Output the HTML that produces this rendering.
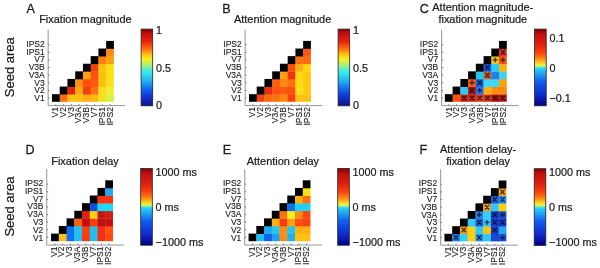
<!DOCTYPE html>
<html><head><meta charset="utf-8"><title>Seed area matrices</title>
<style>
html,body{margin:0;padding:0;background:#fff;}
body{width:600px;height:268px;overflow:hidden;position:relative;}
svg{position:absolute;left:0;top:0;display:block;filter:blur(0.35px);}
text{font-family:'Liberation Sans', Arial, Helvetica, sans-serif;fill:#1a1a1a;stroke:#1a1a1a;stroke-width:0.22px;}
.lt{font-size:12.6px;stroke-width:0.28px;}
.ti{font-size:10.95px;}
.tk{font-size:8.5px;stroke-width:0.12px;}
.cb{font-size:10.8px;}
.yl{font-size:13px;}
</style></head><body>
<svg width="600" height="268" viewBox="0 0 600 268">
<defs>
<linearGradient id="jet" x1="0" y1="0" x2="0" y2="1"><stop offset="0" stop-color="#800000"/><stop offset="0.06" stop-color="#c01010"/><stop offset="0.16" stop-color="#e82010"/><stop offset="0.26" stop-color="#ff7010"/><stop offset="0.33" stop-color="#ffc010"/><stop offset="0.39" stop-color="#f8f020"/><stop offset="0.45" stop-color="#c0f060"/><stop offset="0.5" stop-color="#80f0a0"/><stop offset="0.54" stop-color="#40f0e0"/><stop offset="0.59" stop-color="#30e0f0"/><stop offset="0.68" stop-color="#20b0f0"/><stop offset="0.77" stop-color="#1070f0"/><stop offset="0.85" stop-color="#1040e0"/><stop offset="0.95" stop-color="#1020b0"/><stop offset="1" stop-color="#101080"/></linearGradient>
<linearGradient id="split" x1="0" y1="0" x2="0" y2="1"><stop offset="0" stop-color="#800000"/><stop offset="0.07" stop-color="#c01010"/><stop offset="0.2" stop-color="#e02010"/><stop offset="0.3" stop-color="#f84010"/><stop offset="0.38" stop-color="#ff8010"/><stop offset="0.43" stop-color="#ffc020"/><stop offset="0.47" stop-color="#f0f040"/><stop offset="0.49" stop-color="#a0f090"/><stop offset="0.51" stop-color="#30d8f8"/><stop offset="0.54" stop-color="#20c0f8"/><stop offset="0.59" stop-color="#20a0f0"/><stop offset="0.68" stop-color="#1060f0"/><stop offset="0.78" stop-color="#1040e0"/><stop offset="0.89" stop-color="#1020c0"/><stop offset="1" stop-color="#000080"/></linearGradient>
</defs>
<g><text class="lt" x="26.4" y="12.7">A</text>
<text class="ti" x="85.4" y="22.5" text-anchor="middle">Fixation magnitude</text>
<rect x="51.97" y="94.18" width="8.09" height="7.61" fill="#000"/>
<rect x="59.71" y="94.18" width="8.09" height="7.61" fill="#ff6a10"/>
<rect x="67.45" y="94.18" width="8.09" height="7.61" fill="#ffc010"/>
<rect x="75.19" y="94.18" width="8.09" height="7.61" fill="#ffc010"/>
<rect x="82.93" y="94.18" width="8.09" height="7.61" fill="#ffb010"/>
<rect x="90.67" y="94.18" width="8.09" height="7.61" fill="#ffb810"/>
<rect x="98.41" y="94.18" width="8.09" height="7.61" fill="#f0e020"/>
<rect x="106.15" y="94.18" width="7.74" height="7.61" fill="#d8f040"/>
<rect x="59.71" y="86.57" width="8.09" height="7.96" fill="#000"/>
<rect x="67.45" y="86.57" width="8.09" height="7.96" fill="#e02810"/>
<rect x="75.19" y="86.57" width="8.09" height="7.96" fill="#ffa810"/>
<rect x="82.93" y="86.57" width="8.09" height="7.96" fill="#f04010"/>
<rect x="90.67" y="86.57" width="8.09" height="7.96" fill="#ff7010"/>
<rect x="98.41" y="86.57" width="8.09" height="7.96" fill="#f8e020"/>
<rect x="106.15" y="86.57" width="7.74" height="7.96" fill="#f0f030"/>
<rect x="67.45" y="78.96" width="8.09" height="7.96" fill="#000"/>
<rect x="75.19" y="78.96" width="8.09" height="7.96" fill="#ff9010"/>
<rect x="82.93" y="78.96" width="8.09" height="7.96" fill="#ff5010"/>
<rect x="90.67" y="78.96" width="8.09" height="7.96" fill="#ff5810"/>
<rect x="98.41" y="78.96" width="8.09" height="7.96" fill="#ffc010"/>
<rect x="106.15" y="78.96" width="7.74" height="7.96" fill="#ffe020"/>
<rect x="75.19" y="71.35" width="8.09" height="7.96" fill="#000"/>
<rect x="82.93" y="71.35" width="8.09" height="7.96" fill="#ffa010"/>
<rect x="90.67" y="71.35" width="8.09" height="7.96" fill="#ff5010"/>
<rect x="98.41" y="71.35" width="8.09" height="7.96" fill="#ffc010"/>
<rect x="106.15" y="71.35" width="7.74" height="7.96" fill="#ffe010"/>
<rect x="82.93" y="63.74" width="8.09" height="7.96" fill="#000"/>
<rect x="90.67" y="63.74" width="8.09" height="7.96" fill="#f04010"/>
<rect x="98.41" y="63.74" width="8.09" height="7.96" fill="#ffc010"/>
<rect x="106.15" y="63.74" width="7.74" height="7.96" fill="#ffe010"/>
<rect x="90.67" y="56.13" width="8.09" height="7.96" fill="#000"/>
<rect x="98.41" y="56.13" width="8.09" height="7.96" fill="#ff8010"/>
<rect x="106.15" y="56.13" width="7.74" height="7.96" fill="#ffa010"/>
<rect x="98.41" y="48.52" width="8.09" height="7.96" fill="#000"/>
<rect x="106.15" y="48.52" width="7.74" height="7.96" fill="#ff8a10"/>
<rect x="106.15" y="40.91" width="7.74" height="7.96" fill="#000"/>
<path d="M48.15 29.7V105.6H125.2" stroke="#8a8a8a" stroke-width="0.9" fill="none"/>
<path d="M48.15 97.99h1.4M55.84 105.6v-1.4M48.15 90.38h1.4M63.58 105.6v-1.4M48.15 82.77h1.4M71.32 105.6v-1.4M48.15 75.16h1.4M79.06 105.6v-1.4M48.15 67.55h1.4M86.8 105.6v-1.4M48.15 59.94h1.4M94.54 105.6v-1.4M48.15 52.33h1.4M102.28 105.6v-1.4M48.15 44.72h1.4M110.02 105.6v-1.4" stroke="#606060" stroke-width="0.8" fill="none"/>
<text class="tk" x="44.75" y="101.24" text-anchor="end">V1</text>
<text class="tk" x="44.75" y="93.48" text-anchor="end">V2</text>
<text class="tk" x="44.75" y="85.72" text-anchor="end">V3</text>
<text class="tk" x="44.75" y="77.96" text-anchor="end">V3A</text>
<text class="tk" x="44.75" y="70.2" text-anchor="end">V3B</text>
<text class="tk" x="44.75" y="62.44" text-anchor="end">V7</text>
<text class="tk" x="44.75" y="54.68" text-anchor="end">IPS1</text>
<text class="tk" x="44.75" y="46.92" text-anchor="end">IPS2</text>
<text class="tk" text-anchor="end" transform="translate(58 107.1) rotate(-90)">V1</text>
<text class="tk" text-anchor="end" transform="translate(65.8 107.1) rotate(-90)">V2</text>
<text class="tk" text-anchor="end" transform="translate(73.6 107.1) rotate(-90)">V3</text>
<text class="tk" text-anchor="end" transform="translate(81.4 107.1) rotate(-90)">V3A</text>
<text class="tk" text-anchor="end" transform="translate(89.2 107.1) rotate(-90)">V3B</text>
<text class="tk" text-anchor="end" transform="translate(97 107.1) rotate(-90)">V7</text>
<text class="tk" text-anchor="end" transform="translate(104.8 107.1) rotate(-90)">IPS1</text>
<text class="tk" text-anchor="end" transform="translate(112.6 107.1) rotate(-90)">IPS2</text>
<rect x="141.1" y="29.1" width="11.6" height="76.7" fill="url(#jet)" stroke="#222" stroke-width="0.8"/>
<text class="cb" x="156" y="33.6">1</text>
<text class="cb" x="156" y="71.9">0.5</text>
<text class="cb" x="156" y="108.8">0</text>
<text class="yl" text-anchor="middle" transform="translate(14.1 67.2) rotate(-90)">Seed area</text></g>
<g><text class="lt" x="222.3" y="12.5">B</text>
<text class="ti" x="282.6" y="22.5" text-anchor="middle">Attention magnitude</text>
<rect x="248.97" y="94.18" width="8.09" height="7.61" fill="#000"/>
<rect x="256.71" y="94.18" width="8.09" height="7.61" fill="#f04010"/>
<rect x="264.45" y="94.18" width="8.09" height="7.61" fill="#ff6a10"/>
<rect x="272.19" y="94.18" width="8.09" height="7.61" fill="#ff7010"/>
<rect x="279.93" y="94.18" width="8.09" height="7.61" fill="#ff8810"/>
<rect x="287.67" y="94.18" width="8.09" height="7.61" fill="#f84010"/>
<rect x="295.41" y="94.18" width="8.09" height="7.61" fill="#ffc010"/>
<rect x="303.15" y="94.18" width="7.74" height="7.61" fill="#ffc010"/>
<rect x="256.71" y="86.57" width="8.09" height="7.96" fill="#000"/>
<rect x="264.45" y="86.57" width="8.09" height="7.96" fill="#e83010"/>
<rect x="272.19" y="86.57" width="8.09" height="7.96" fill="#ff5010"/>
<rect x="279.93" y="86.57" width="8.09" height="7.96" fill="#ff5810"/>
<rect x="287.67" y="86.57" width="8.09" height="7.96" fill="#ff5010"/>
<rect x="295.41" y="86.57" width="8.09" height="7.96" fill="#ffe010"/>
<rect x="303.15" y="86.57" width="7.74" height="7.96" fill="#ffc810"/>
<rect x="264.45" y="78.96" width="8.09" height="7.96" fill="#000"/>
<rect x="272.19" y="78.96" width="8.09" height="7.96" fill="#ff6010"/>
<rect x="279.93" y="78.96" width="8.09" height="7.96" fill="#ff8810"/>
<rect x="287.67" y="78.96" width="8.09" height="7.96" fill="#ff7010"/>
<rect x="295.41" y="78.96" width="8.09" height="7.96" fill="#ffd810"/>
<rect x="303.15" y="78.96" width="7.74" height="7.96" fill="#ffc810"/>
<rect x="272.19" y="71.35" width="8.09" height="7.96" fill="#000"/>
<rect x="279.93" y="71.35" width="8.09" height="7.96" fill="#ffa010"/>
<rect x="287.67" y="71.35" width="8.09" height="7.96" fill="#f03010"/>
<rect x="295.41" y="71.35" width="8.09" height="7.96" fill="#ffd810"/>
<rect x="303.15" y="71.35" width="7.74" height="7.96" fill="#ffc810"/>
<rect x="279.93" y="63.74" width="8.09" height="7.96" fill="#000"/>
<rect x="287.67" y="63.74" width="8.09" height="7.96" fill="#ff5010"/>
<rect x="295.41" y="63.74" width="8.09" height="7.96" fill="#ffb010"/>
<rect x="303.15" y="63.74" width="7.74" height="7.96" fill="#ffd810"/>
<rect x="287.67" y="56.13" width="8.09" height="7.96" fill="#000"/>
<rect x="295.41" y="56.13" width="8.09" height="7.96" fill="#ff7010"/>
<rect x="303.15" y="56.13" width="7.74" height="7.96" fill="#ff6810"/>
<rect x="295.41" y="48.52" width="8.09" height="7.96" fill="#000"/>
<rect x="303.15" y="48.52" width="7.74" height="7.96" fill="#ff5810"/>
<rect x="303.15" y="40.91" width="7.74" height="7.96" fill="#000"/>
<path d="M245.15 29.7V105.6H322.2" stroke="#8a8a8a" stroke-width="0.9" fill="none"/>
<path d="M245.15 97.99h1.4M252.84 105.6v-1.4M245.15 90.38h1.4M260.58 105.6v-1.4M245.15 82.77h1.4M268.32 105.6v-1.4M245.15 75.16h1.4M276.06 105.6v-1.4M245.15 67.55h1.4M283.8 105.6v-1.4M245.15 59.94h1.4M291.54 105.6v-1.4M245.15 52.33h1.4M299.28 105.6v-1.4M245.15 44.72h1.4M307.02 105.6v-1.4" stroke="#606060" stroke-width="0.8" fill="none"/>
<text class="tk" x="241.75" y="101.24" text-anchor="end">V1</text>
<text class="tk" x="241.75" y="93.48" text-anchor="end">V2</text>
<text class="tk" x="241.75" y="85.72" text-anchor="end">V3</text>
<text class="tk" x="241.75" y="77.96" text-anchor="end">V3A</text>
<text class="tk" x="241.75" y="70.2" text-anchor="end">V3B</text>
<text class="tk" x="241.75" y="62.44" text-anchor="end">V7</text>
<text class="tk" x="241.75" y="54.68" text-anchor="end">IPS1</text>
<text class="tk" x="241.75" y="46.92" text-anchor="end">IPS2</text>
<text class="tk" text-anchor="end" transform="translate(255 107.1) rotate(-90)">V1</text>
<text class="tk" text-anchor="end" transform="translate(262.8 107.1) rotate(-90)">V2</text>
<text class="tk" text-anchor="end" transform="translate(270.6 107.1) rotate(-90)">V3</text>
<text class="tk" text-anchor="end" transform="translate(278.4 107.1) rotate(-90)">V3A</text>
<text class="tk" text-anchor="end" transform="translate(286.2 107.1) rotate(-90)">V3B</text>
<text class="tk" text-anchor="end" transform="translate(294 107.1) rotate(-90)">V7</text>
<text class="tk" text-anchor="end" transform="translate(301.8 107.1) rotate(-90)">IPS1</text>
<text class="tk" text-anchor="end" transform="translate(309.6 107.1) rotate(-90)">IPS2</text>
<rect x="338.1" y="29.1" width="11.6" height="76.7" fill="url(#jet)" stroke="#222" stroke-width="0.8"/>
<text class="cb" x="353" y="33.6">1</text>
<text class="cb" x="353" y="71.9">0.5</text>
<text class="cb" x="353" y="108.8">0</text></g>
<g><text class="lt" x="419.7" y="12.7">C</text>
<text class="ti" x="482.8" y="10.8" text-anchor="middle">Attention magnitude-</text>
<text class="ti" x="482.8" y="22.6" text-anchor="middle">fixation magnitude</text>
<rect x="444.87" y="94.18" width="8.09" height="7.61" fill="#000"/>
<rect x="452.61" y="94.18" width="8.09" height="7.61" fill="#ff5010"/>
<rect x="460.35" y="94.18" width="8.09" height="7.61" fill="#c82010"/>
<rect x="468.09" y="94.18" width="8.09" height="7.61" fill="#d02818"/>
<rect x="475.83" y="94.18" width="8.09" height="7.61" fill="#e04018"/>
<rect x="483.57" y="94.18" width="8.09" height="7.61" fill="#d83010"/>
<rect x="491.31" y="94.18" width="8.09" height="7.61" fill="#a81010"/>
<rect x="499.05" y="94.18" width="7.74" height="7.61" fill="#b81818"/>
<rect x="452.61" y="86.57" width="8.09" height="7.96" fill="#000"/>
<rect x="460.35" y="86.57" width="8.09" height="7.96" fill="#30c8f0"/>
<rect x="468.09" y="86.57" width="8.09" height="7.96" fill="#a01818"/>
<rect x="475.83" y="86.57" width="8.09" height="7.96" fill="#2070f0"/>
<rect x="483.57" y="86.57" width="8.09" height="7.96" fill="#ffb010"/>
<rect x="491.31" y="86.57" width="8.09" height="7.96" fill="#ff8c10"/>
<rect x="499.05" y="86.57" width="7.74" height="7.96" fill="#ff8c10"/>
<rect x="460.35" y="78.96" width="8.09" height="7.96" fill="#000"/>
<rect x="468.09" y="78.96" width="8.09" height="7.96" fill="#ff5818"/>
<rect x="475.83" y="78.96" width="8.09" height="7.96" fill="#1060e0"/>
<rect x="483.57" y="78.96" width="8.09" height="7.96" fill="#40d8f8"/>
<rect x="491.31" y="78.96" width="8.09" height="7.96" fill="#40d8f8"/>
<rect x="499.05" y="78.96" width="7.74" height="7.96" fill="#ffa010"/>
<rect x="468.09" y="71.35" width="8.09" height="7.96" fill="#000"/>
<rect x="475.83" y="71.35" width="8.09" height="7.96" fill="#20c8f0"/>
<rect x="483.57" y="71.35" width="8.09" height="7.96" fill="#d06020"/>
<rect x="491.31" y="71.35" width="8.09" height="7.96" fill="#2080f0"/>
<rect x="499.05" y="71.35" width="7.74" height="7.96" fill="#40d0f0"/>
<rect x="475.83" y="63.74" width="8.09" height="7.96" fill="#000"/>
<rect x="483.57" y="63.74" width="8.09" height="7.96" fill="#2050e0"/>
<rect x="491.31" y="63.74" width="8.09" height="7.96" fill="#20d0f8"/>
<rect x="499.05" y="63.74" width="7.74" height="7.96" fill="#ffb010"/>
<rect x="483.57" y="56.13" width="8.09" height="7.96" fill="#000"/>
<rect x="491.31" y="56.13" width="8.09" height="7.96" fill="#f0c020"/>
<rect x="499.05" y="56.13" width="7.74" height="7.96" fill="#f05010"/>
<rect x="491.31" y="48.52" width="8.09" height="7.96" fill="#000"/>
<rect x="499.05" y="48.52" width="7.74" height="7.96" fill="#e83020"/>
<rect x="499.05" y="40.91" width="7.74" height="7.96" fill="#000"/>
<path d="M462.12 95.69L466.32 100.29M462.12 100.29L466.32 95.69M469.86 95.69L474.06 100.29M469.86 100.29L474.06 95.69M477.6 95.69L481.8 100.29M477.6 100.29L481.8 95.69M485.34 95.69L489.54 100.29M485.34 100.29L489.54 95.69M493.08 95.69L497.28 100.29M493.08 100.29L497.28 95.69M500.82 95.69L505.02 100.29M500.82 100.29L505.02 95.69M469.86 88.08L474.06 92.68M469.86 92.68L474.06 88.08M477.3 90.38L482.1 90.38M479.7 87.98L479.7 92.78M469.56 82.77L474.36 82.77M471.96 80.37L471.96 85.17M477.6 80.47L481.8 85.07M477.6 85.07L481.8 80.47M485.34 72.86L489.54 77.46M485.34 77.46L489.54 72.86M485.34 65.25L489.54 69.85M485.34 69.85L489.54 65.25M492.78 59.94L497.58 59.94M495.18 57.54L495.18 62.34M500.52 59.94L505.32 59.94M502.92 57.54L502.92 62.34M500.82 50.03L505.02 54.63M500.82 54.63L505.02 50.03" stroke="#141010" stroke-width="1.3" fill="none" opacity="0.8"/>
<path d="M441.65 29.7V105.6H518.7" stroke="#8a8a8a" stroke-width="0.9" fill="none"/>
<path d="M441.65 97.99h1.4M448.74 105.6v-1.4M441.65 90.38h1.4M456.48 105.6v-1.4M441.65 82.77h1.4M464.22 105.6v-1.4M441.65 75.16h1.4M471.96 105.6v-1.4M441.65 67.55h1.4M479.7 105.6v-1.4M441.65 59.94h1.4M487.44 105.6v-1.4M441.65 52.33h1.4M495.18 105.6v-1.4M441.65 44.72h1.4M502.92 105.6v-1.4" stroke="#606060" stroke-width="0.8" fill="none"/>
<text class="tk" x="438.25" y="101.24" text-anchor="end">V1</text>
<text class="tk" x="438.25" y="93.48" text-anchor="end">V2</text>
<text class="tk" x="438.25" y="85.72" text-anchor="end">V3</text>
<text class="tk" x="438.25" y="77.96" text-anchor="end">V3A</text>
<text class="tk" x="438.25" y="70.2" text-anchor="end">V3B</text>
<text class="tk" x="438.25" y="62.44" text-anchor="end">V7</text>
<text class="tk" x="438.25" y="54.68" text-anchor="end">IPS1</text>
<text class="tk" x="438.25" y="46.92" text-anchor="end">IPS2</text>
<text class="tk" text-anchor="end" transform="translate(451.5 107.1) rotate(-90)">V1</text>
<text class="tk" text-anchor="end" transform="translate(459.3 107.1) rotate(-90)">V2</text>
<text class="tk" text-anchor="end" transform="translate(467.1 107.1) rotate(-90)">V3</text>
<text class="tk" text-anchor="end" transform="translate(474.9 107.1) rotate(-90)">V3A</text>
<text class="tk" text-anchor="end" transform="translate(482.7 107.1) rotate(-90)">V3B</text>
<text class="tk" text-anchor="end" transform="translate(490.5 107.1) rotate(-90)">V7</text>
<text class="tk" text-anchor="end" transform="translate(498.3 107.1) rotate(-90)">IPS1</text>
<text class="tk" text-anchor="end" transform="translate(506.1 107.1) rotate(-90)">IPS2</text>
<rect x="534.6" y="29.1" width="11.6" height="76.7" fill="url(#split)" stroke="#222" stroke-width="0.8"/>
<text class="cb" x="549.5" y="41.9">0.1</text>
<text class="cb" x="549.5" y="71.8">0</text>
<text class="cb" x="549.5" y="101.5">−0.1</text></g>
<g><text class="lt" x="25.4" y="154.2">D</text>
<text class="ti" x="85" y="164.5" text-anchor="middle">Fixation delay</text>
<rect x="51.07" y="233.58" width="8.09" height="7.61" fill="#000"/>
<rect x="58.81" y="233.58" width="8.09" height="7.61" fill="#ffc010"/>
<rect x="66.55" y="233.58" width="8.09" height="7.61" fill="#1070f0"/>
<rect x="74.29" y="233.58" width="8.09" height="7.61" fill="#20c0f0"/>
<rect x="82.03" y="233.58" width="8.09" height="7.61" fill="#ff3810"/>
<rect x="89.77" y="233.58" width="8.09" height="7.61" fill="#20c0f0"/>
<rect x="97.51" y="233.58" width="8.09" height="7.61" fill="#f03010"/>
<rect x="105.25" y="233.58" width="7.74" height="7.61" fill="#ff4810"/>
<rect x="58.81" y="225.97" width="8.09" height="7.96" fill="#000"/>
<rect x="66.55" y="225.97" width="8.09" height="7.96" fill="#1070f0"/>
<rect x="74.29" y="225.97" width="8.09" height="7.96" fill="#20c0f0"/>
<rect x="82.03" y="225.97" width="8.09" height="7.96" fill="#f84010"/>
<rect x="89.77" y="225.97" width="8.09" height="7.96" fill="#20c0f0"/>
<rect x="97.51" y="225.97" width="8.09" height="7.96" fill="#f03010"/>
<rect x="105.25" y="225.97" width="7.74" height="7.96" fill="#ff5010"/>
<rect x="66.55" y="218.36" width="8.09" height="7.96" fill="#000"/>
<rect x="74.29" y="218.36" width="8.09" height="7.96" fill="#ff6010"/>
<rect x="82.03" y="218.36" width="8.09" height="7.96" fill="#c01010"/>
<rect x="89.77" y="218.36" width="8.09" height="7.96" fill="#ff4010"/>
<rect x="97.51" y="218.36" width="8.09" height="7.96" fill="#c01010"/>
<rect x="105.25" y="218.36" width="7.74" height="7.96" fill="#c81010"/>
<rect x="74.29" y="210.75" width="8.09" height="7.96" fill="#000"/>
<rect x="82.03" y="210.75" width="8.09" height="7.96" fill="#e02010"/>
<rect x="89.77" y="210.75" width="8.09" height="7.96" fill="#ffd010"/>
<rect x="97.51" y="210.75" width="8.09" height="7.96" fill="#c01810"/>
<rect x="105.25" y="210.75" width="7.74" height="7.96" fill="#d02010"/>
<rect x="82.03" y="203.14" width="8.09" height="7.96" fill="#000"/>
<rect x="89.77" y="203.14" width="8.09" height="7.96" fill="#1050e0"/>
<rect x="97.51" y="203.14" width="8.09" height="7.96" fill="#20d8f8"/>
<rect x="105.25" y="203.14" width="7.74" height="7.96" fill="#20d8f8"/>
<rect x="89.77" y="195.53" width="8.09" height="7.96" fill="#000"/>
<rect x="97.51" y="195.53" width="8.09" height="7.96" fill="#ff3010"/>
<rect x="105.25" y="195.53" width="7.74" height="7.96" fill="#ff3010"/>
<rect x="97.51" y="187.92" width="8.09" height="7.96" fill="#000"/>
<rect x="105.25" y="187.92" width="7.74" height="7.96" fill="#20a8f0"/>
<rect x="105.25" y="180.31" width="7.74" height="7.96" fill="#000"/>
<path d="M46.75 169.1V245H123.8" stroke="#8a8a8a" stroke-width="0.9" fill="none"/>
<path d="M46.75 237.39h1.4M54.94 245v-1.4M46.75 229.78h1.4M62.68 245v-1.4M46.75 222.17h1.4M70.42 245v-1.4M46.75 214.56h1.4M78.16 245v-1.4M46.75 206.95h1.4M85.9 245v-1.4M46.75 199.34h1.4M93.64 245v-1.4M46.75 191.73h1.4M101.38 245v-1.4M46.75 184.12h1.4M109.12 245v-1.4" stroke="#606060" stroke-width="0.8" fill="none"/>
<text class="tk" x="43.35" y="240.94" text-anchor="end">V1</text>
<text class="tk" x="43.35" y="233.06" text-anchor="end">V2</text>
<text class="tk" x="43.35" y="225.18" text-anchor="end">V3</text>
<text class="tk" x="43.35" y="217.3" text-anchor="end">V3A</text>
<text class="tk" x="43.35" y="209.42" text-anchor="end">V3B</text>
<text class="tk" x="43.35" y="201.54" text-anchor="end">V7</text>
<text class="tk" x="43.35" y="193.66" text-anchor="end">IPS1</text>
<text class="tk" x="43.35" y="185.78" text-anchor="end">IPS2</text>
<text class="tk" text-anchor="end" transform="translate(56.6 246.5) rotate(-90)">V1</text>
<text class="tk" text-anchor="end" transform="translate(64.4 246.5) rotate(-90)">V2</text>
<text class="tk" text-anchor="end" transform="translate(72.2 246.5) rotate(-90)">V3</text>
<text class="tk" text-anchor="end" transform="translate(80 246.5) rotate(-90)">V3A</text>
<text class="tk" text-anchor="end" transform="translate(87.8 246.5) rotate(-90)">V3B</text>
<text class="tk" text-anchor="end" transform="translate(95.6 246.5) rotate(-90)">V7</text>
<text class="tk" text-anchor="end" transform="translate(103.4 246.5) rotate(-90)">IPS1</text>
<text class="tk" text-anchor="end" transform="translate(111.2 246.5) rotate(-90)">IPS2</text>
<rect x="140.7" y="168.5" width="11.6" height="76.7" fill="url(#split)" stroke="#222" stroke-width="0.8"/>
<text class="cb" x="155.6" y="176">1000 ms</text>
<text class="cb" x="155.6" y="211.1">0 ms</text>
<text class="cb" x="155.6" y="245.9">−1000 ms</text>
<text class="yl" text-anchor="middle" transform="translate(14.1 206.6) rotate(-90)">Seed area</text></g>
<g><text class="lt" x="222.7" y="154.4">E</text>
<text class="ti" x="282.9" y="164.7" text-anchor="middle">Attention delay</text>
<rect x="248.57" y="233.58" width="8.09" height="7.61" fill="#000"/>
<rect x="256.31" y="233.58" width="8.09" height="7.61" fill="#20c0f0"/>
<rect x="264.05" y="233.58" width="8.09" height="7.61" fill="#1060f0"/>
<rect x="271.79" y="233.58" width="8.09" height="7.61" fill="#20a0f0"/>
<rect x="279.53" y="233.58" width="8.09" height="7.61" fill="#ff8c10"/>
<rect x="287.27" y="233.58" width="8.09" height="7.61" fill="#20b0f0"/>
<rect x="295.01" y="233.58" width="8.09" height="7.61" fill="#ffc010"/>
<rect x="302.75" y="233.58" width="7.74" height="7.61" fill="#ffc010"/>
<rect x="256.31" y="225.97" width="8.09" height="7.96" fill="#000"/>
<rect x="264.05" y="225.97" width="8.09" height="7.96" fill="#20a8f0"/>
<rect x="271.79" y="225.97" width="8.09" height="7.96" fill="#20c8f0"/>
<rect x="279.53" y="225.97" width="8.09" height="7.96" fill="#ff8c10"/>
<rect x="287.27" y="225.97" width="8.09" height="7.96" fill="#20c8f0"/>
<rect x="295.01" y="225.97" width="8.09" height="7.96" fill="#ffb010"/>
<rect x="302.75" y="225.97" width="7.74" height="7.96" fill="#ffb010"/>
<rect x="264.05" y="218.36" width="8.09" height="7.96" fill="#000"/>
<rect x="271.79" y="218.36" width="8.09" height="7.96" fill="#ffb010"/>
<rect x="279.53" y="218.36" width="8.09" height="7.96" fill="#ff3810"/>
<rect x="287.27" y="218.36" width="8.09" height="7.96" fill="#ffa010"/>
<rect x="295.01" y="218.36" width="8.09" height="7.96" fill="#ff5010"/>
<rect x="302.75" y="218.36" width="7.74" height="7.96" fill="#ff4010"/>
<rect x="271.79" y="210.75" width="8.09" height="7.96" fill="#000"/>
<rect x="279.53" y="210.75" width="8.09" height="7.96" fill="#ff7010"/>
<rect x="287.27" y="210.75" width="8.09" height="7.96" fill="#f8f020"/>
<rect x="295.01" y="210.75" width="8.09" height="7.96" fill="#ff8c10"/>
<rect x="302.75" y="210.75" width="7.74" height="7.96" fill="#ff4810"/>
<rect x="279.53" y="203.14" width="8.09" height="7.96" fill="#000"/>
<rect x="287.27" y="203.14" width="8.09" height="7.96" fill="#1070f0"/>
<rect x="295.01" y="203.14" width="8.09" height="7.96" fill="#20d0f8"/>
<rect x="302.75" y="203.14" width="7.74" height="7.96" fill="#20d0f8"/>
<rect x="287.27" y="195.53" width="8.09" height="7.96" fill="#000"/>
<rect x="295.01" y="195.53" width="8.09" height="7.96" fill="#ffb010"/>
<rect x="302.75" y="195.53" width="7.74" height="7.96" fill="#ff7010"/>
<rect x="295.01" y="187.92" width="8.09" height="7.96" fill="#000"/>
<rect x="302.75" y="187.92" width="7.74" height="7.96" fill="#f8e010"/>
<rect x="302.75" y="180.31" width="7.74" height="7.96" fill="#000"/>
<path d="M244.75 169.1V245H321.8" stroke="#8a8a8a" stroke-width="0.9" fill="none"/>
<path d="M244.75 237.39h1.4M252.44 245v-1.4M244.75 229.78h1.4M260.18 245v-1.4M244.75 222.17h1.4M267.92 245v-1.4M244.75 214.56h1.4M275.66 245v-1.4M244.75 206.95h1.4M283.4 245v-1.4M244.75 199.34h1.4M291.14 245v-1.4M244.75 191.73h1.4M298.88 245v-1.4M244.75 184.12h1.4M306.62 245v-1.4" stroke="#606060" stroke-width="0.8" fill="none"/>
<text class="tk" x="241.35" y="240.94" text-anchor="end">V1</text>
<text class="tk" x="241.35" y="233.06" text-anchor="end">V2</text>
<text class="tk" x="241.35" y="225.18" text-anchor="end">V3</text>
<text class="tk" x="241.35" y="217.3" text-anchor="end">V3A</text>
<text class="tk" x="241.35" y="209.42" text-anchor="end">V3B</text>
<text class="tk" x="241.35" y="201.54" text-anchor="end">V7</text>
<text class="tk" x="241.35" y="193.66" text-anchor="end">IPS1</text>
<text class="tk" x="241.35" y="185.78" text-anchor="end">IPS2</text>
<text class="tk" text-anchor="end" transform="translate(254.6 246.5) rotate(-90)">V1</text>
<text class="tk" text-anchor="end" transform="translate(262.4 246.5) rotate(-90)">V2</text>
<text class="tk" text-anchor="end" transform="translate(270.2 246.5) rotate(-90)">V3</text>
<text class="tk" text-anchor="end" transform="translate(278 246.5) rotate(-90)">V3A</text>
<text class="tk" text-anchor="end" transform="translate(285.8 246.5) rotate(-90)">V3B</text>
<text class="tk" text-anchor="end" transform="translate(293.6 246.5) rotate(-90)">V7</text>
<text class="tk" text-anchor="end" transform="translate(301.4 246.5) rotate(-90)">IPS1</text>
<text class="tk" text-anchor="end" transform="translate(309.2 246.5) rotate(-90)">IPS2</text>
<rect x="337.7" y="168.5" width="11.6" height="76.7" fill="url(#split)" stroke="#222" stroke-width="0.8"/>
<text class="cb" x="352.6" y="176">1000 ms</text>
<text class="cb" x="352.6" y="211.1">0 ms</text>
<text class="cb" x="352.6" y="245.9">−1000 ms</text></g>
<g><text class="lt" x="419.5" y="154.2">F</text>
<text class="ti" x="478.1" y="152.9" text-anchor="middle">Attention delay-</text>
<text class="ti" x="478.1" y="164.6" text-anchor="middle">fixation delay</text>
<rect x="444.47" y="233.78" width="8.09" height="7.61" fill="#000"/>
<rect x="452.21" y="233.78" width="8.09" height="7.61" fill="#2080f0"/>
<rect x="459.95" y="233.78" width="8.09" height="7.61" fill="#30d0f8"/>
<rect x="467.69" y="233.78" width="8.09" height="7.61" fill="#ffd010"/>
<rect x="475.43" y="233.78" width="8.09" height="7.61" fill="#2090f0"/>
<rect x="483.17" y="233.78" width="8.09" height="7.61" fill="#30c8f8"/>
<rect x="490.91" y="233.78" width="8.09" height="7.61" fill="#1848d0"/>
<rect x="498.65" y="233.78" width="7.74" height="7.61" fill="#2050e0"/>
<rect x="452.21" y="226.17" width="8.09" height="7.96" fill="#000"/>
<rect x="459.95" y="226.17" width="8.09" height="7.96" fill="#f0a020"/>
<rect x="467.69" y="226.17" width="8.09" height="7.96" fill="#ffd010"/>
<rect x="475.43" y="226.17" width="8.09" height="7.96" fill="#30c8f8"/>
<rect x="483.17" y="226.17" width="8.09" height="7.96" fill="#ffc010"/>
<rect x="490.91" y="226.17" width="8.09" height="7.96" fill="#1040d0"/>
<rect x="498.65" y="226.17" width="7.74" height="7.96" fill="#20a8f0"/>
<rect x="459.95" y="218.56" width="8.09" height="7.96" fill="#000"/>
<rect x="467.69" y="218.56" width="8.09" height="7.96" fill="#30c8f8"/>
<rect x="475.43" y="218.56" width="8.09" height="7.96" fill="#2060e0"/>
<rect x="483.17" y="218.56" width="8.09" height="7.96" fill="#30c8f8"/>
<rect x="490.91" y="218.56" width="8.09" height="7.96" fill="#1838c8"/>
<rect x="498.65" y="218.56" width="7.74" height="7.96" fill="#1838c8"/>
<rect x="467.69" y="210.95" width="8.09" height="7.96" fill="#000"/>
<rect x="475.43" y="210.95" width="8.09" height="7.96" fill="#2080f0"/>
<rect x="483.17" y="210.95" width="8.09" height="7.96" fill="#30d0f8"/>
<rect x="490.91" y="210.95" width="8.09" height="7.96" fill="#1838c8"/>
<rect x="498.65" y="210.95" width="7.74" height="7.96" fill="#1848d0"/>
<rect x="475.43" y="203.34" width="8.09" height="7.96" fill="#000"/>
<rect x="483.17" y="203.34" width="8.09" height="7.96" fill="#f0a020"/>
<rect x="490.91" y="203.34" width="8.09" height="7.96" fill="#30c8f8"/>
<rect x="498.65" y="203.34" width="7.74" height="7.96" fill="#ffd010"/>
<rect x="483.17" y="195.73" width="8.09" height="7.96" fill="#000"/>
<rect x="490.91" y="195.73" width="8.09" height="7.96" fill="#2060e0"/>
<rect x="498.65" y="195.73" width="7.74" height="7.96" fill="#2090f0"/>
<rect x="490.91" y="188.12" width="8.09" height="7.96" fill="#000"/>
<rect x="498.65" y="188.12" width="7.74" height="7.96" fill="#f0a020"/>
<rect x="498.65" y="180.51" width="7.74" height="7.96" fill="#000"/>
<path d="M453.98 235.29L458.18 239.89M453.98 239.89L458.18 235.29M477.2 235.29L481.4 239.89M477.2 239.89L481.4 235.29M500.12 237.59L504.92 237.59M502.52 235.19L502.52 239.99M461.72 227.68L465.92 232.28M461.72 232.28L465.92 227.68M492.68 227.68L496.88 232.28M492.68 232.28L496.88 227.68M477.2 220.07L481.4 224.67M477.2 224.67L481.4 220.07M484.64 222.37L489.44 222.37M487.04 219.97L487.04 224.77M492.68 220.07L496.88 224.67M492.68 224.67L496.88 220.07M500.42 220.07L504.62 224.67M500.42 224.67L504.62 220.07M476.9 214.76L481.7 214.76M479.3 212.36L479.3 217.16M492.68 212.46L496.88 217.06M492.68 217.06L496.88 212.46M500.12 214.76L504.92 214.76M502.52 212.36L502.52 217.16M484.94 204.85L489.14 209.45M484.94 209.45L489.14 204.85M492.68 197.24L496.88 201.84M492.68 201.84L496.88 197.24M500.42 197.24L504.62 201.84M500.42 201.84L504.62 197.24M500.42 189.63L504.62 194.23M500.42 194.23L504.62 189.63" stroke="#141010" stroke-width="1.3" fill="none" opacity="0.8"/>
<path d="M440.65 169.3V245.2H517.7" stroke="#8a8a8a" stroke-width="0.9" fill="none"/>
<path d="M440.65 237.59h1.4M448.34 245.2v-1.4M440.65 229.98h1.4M456.08 245.2v-1.4M440.65 222.37h1.4M463.82 245.2v-1.4M440.65 214.76h1.4M471.56 245.2v-1.4M440.65 207.15h1.4M479.3 245.2v-1.4M440.65 199.54h1.4M487.04 245.2v-1.4M440.65 191.93h1.4M494.78 245.2v-1.4M440.65 184.32h1.4M502.52 245.2v-1.4" stroke="#606060" stroke-width="0.8" fill="none"/>
<text class="tk" x="437.25" y="241.14" text-anchor="end">V1</text>
<text class="tk" x="437.25" y="233.26" text-anchor="end">V2</text>
<text class="tk" x="437.25" y="225.38" text-anchor="end">V3</text>
<text class="tk" x="437.25" y="217.5" text-anchor="end">V3A</text>
<text class="tk" x="437.25" y="209.62" text-anchor="end">V3B</text>
<text class="tk" x="437.25" y="201.74" text-anchor="end">V7</text>
<text class="tk" x="437.25" y="193.86" text-anchor="end">IPS1</text>
<text class="tk" x="437.25" y="185.98" text-anchor="end">IPS2</text>
<text class="tk" text-anchor="end" transform="translate(450.5 246.7) rotate(-90)">V1</text>
<text class="tk" text-anchor="end" transform="translate(458.3 246.7) rotate(-90)">V2</text>
<text class="tk" text-anchor="end" transform="translate(466.1 246.7) rotate(-90)">V3</text>
<text class="tk" text-anchor="end" transform="translate(473.9 246.7) rotate(-90)">V3A</text>
<text class="tk" text-anchor="end" transform="translate(481.7 246.7) rotate(-90)">V3B</text>
<text class="tk" text-anchor="end" transform="translate(489.5 246.7) rotate(-90)">V7</text>
<text class="tk" text-anchor="end" transform="translate(497.3 246.7) rotate(-90)">IPS1</text>
<text class="tk" text-anchor="end" transform="translate(505.1 246.7) rotate(-90)">IPS2</text>
<rect x="534.2" y="168.7" width="11.6" height="76.7" fill="url(#split)" stroke="#222" stroke-width="0.8"/>
<text class="cb" x="549.1" y="176">1000 ms</text>
<text class="cb" x="549.1" y="211.1">0 ms</text>
<text class="cb" x="549.1" y="245.9">−1000 ms</text></g>
</svg>
</body></html>
